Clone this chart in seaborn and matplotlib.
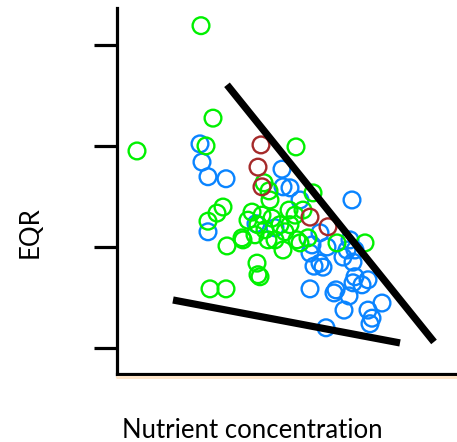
import numpy as np
import pandas as pd
import seaborn as sns
import matplotlib
matplotlib.use("Agg")
import matplotlib.pyplot as plt
from matplotlib.lines import Line2D

# ---- data ----
green_x = [0.84, 0.20, 0.96, 0.89, 0.91, 1.06, 1.10, 0.93, 1.09, 1.26, 1.35, 1.40, 1.41,
           1.47, 1.52, 1.51, 1.66, 1.72, 1.80, 1.86, 1.96, 2.20, 2.48, 1.91, 1.79, 1.31,
           1.41, 1.48, 1.55, 1.63, 1.68, 1.45, 1.58, 1.38, 1.73, 1.25, 1.43, 1.83, 1.00,
           1.53, 1.78]
green_y = [0.838, 0.590, 0.655, 0.600, 0.451, 0.479, 0.402, 0.317, 0.317, 0.414, 0.469,
           0.368, 0.345, 0.527, 0.511, 0.414, 0.394, 0.473, 0.414, 0.473, 0.507, 0.408,
           0.408, 0.418, 0.598, 0.453, 0.444, 0.434, 0.457, 0.444, 0.430, 0.463, 0.414,
           0.424, 0.444, 0.418, 0.341, 0.408, 0.467, 0.493, 0.463]

blue_x = [0.83, 0.85, 0.91, 1.09, 1.65, 1.66, 1.73, 2.35, 0.91, 1.93, 2.03, 1.93, 2.19,
          2.26, 2.38, 2.38, 2.51, 2.03, 2.10, 1.97, 2.17, 2.27, 2.32, 2.36, 2.45, 2.51,
          2.65, 2.53, 2.09, 2.06, 1.95, 2.36, 2.55, 1.83, 1.58, 1.39, 2.30, 2.33]
blue_y = [0.604, 0.568, 0.539, 0.535, 0.554, 0.519, 0.517, 0.493, 0.430, 0.388, 0.368,
          0.317, 0.315, 0.380, 0.394, 0.341, 0.335, 0.428, 0.400, 0.362, 0.309, 0.275,
          0.303, 0.329, 0.325, 0.275, 0.289, 0.248, 0.240, 0.360, 0.404, 0.370, 0.259,
          0.493, 0.438, 0.446, 0.394, 0.414]

red_x = [1.44, 1.41, 1.45, 1.93, 2.11]
red_y = [0.602, 0.558, 0.519, 0.459, 0.440]

upper_line_x = [1.10, 3.17]
upper_line_y = [0.721, 0.212]
lower_line_x = [0.56, 2.83]
lower_line_y = [0.295, 0.210]

y_ticks = [0.2, 0.4, 0.6, 0.8]

# ---- build ----
df = pd.DataFrame({
    "x": blue_x + green_x + red_x,
    "y": blue_y + green_y + red_y,
    "group": ["blue"] * len(blue_x) + ["green"] * len(green_x) + ["red"] * len(red_x),
})
palette = {"blue": "#0A84FF", "green": "#00F000", "red": "#A52A2A"}

sns.set_style("white")
plt.rcParams["font.family"] = ["Lato", "DejaVu Sans"]

fig = plt.figure(figsize=(4.57, 4.42), dpi=100)
ax = fig.add_axes([117 / 457, 1 - 374 / 442, 1 - 117 / 457, (374 - 8) / 442])

sns.scatterplot(data=df, x="x", y="y", hue="group", palette=palette, s=145,
                linewidth=1.5, legend=False, ax=ax)
coll = ax.collections[0]
fc = coll.get_facecolors()
coll.set_edgecolors(fc)
coll.set_facecolors("none")
coll.set_linewidths(1.7)

for lx, ly in [(upper_line_x, upper_line_y), (lower_line_x, lower_line_y)]:
    ax.plot(lx, ly, color="black", linewidth=5.2, solid_capstyle="butt", zorder=5)

ax.set_xlim(0, 3.40)
ax.set_ylim(0.1485, 0.873)
ax.set_xticks([])
ax.set_yticks(y_ticks)
ax.set_yticklabels([])
ax.tick_params(axis="y", direction="out", length=16.5, width=2.3, color="black", left=True)
ax.set_xlabel("")
ax.set_ylabel("")
for side in ["top", "right"]:
    ax.spines[side].set_visible(False)
for side in ["left", "bottom"]:
    ax.spines[side].set_color("black")
    ax.spines[side].set_linewidth(2.3)

# thin peach band under the x axis
fig.add_artist(Line2D([117 / 457, 1.0], [1 - 377 / 442, 1 - 377 / 442],
                      transform=fig.transFigure, color="#FDE4C8", linewidth=2.2))

fig.text(252 / 457, 1 - 430 / 442, "Nutrient concentration", ha="center", va="center",
         fontsize=18.5, color="black")
fig.text(30 / 457, 1 - 232 / 442, "EQR", ha="center", va="center", rotation=90,
         fontsize=18.5, color="black")

fig.savefig("out.png", dpi=100)
